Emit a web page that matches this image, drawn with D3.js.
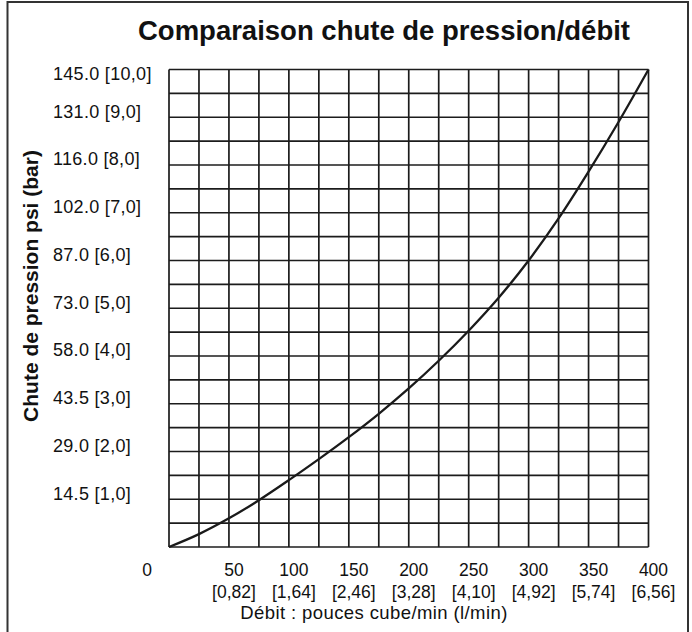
<!DOCTYPE html>
<html><head><meta charset="utf-8">
<script src="https://cdn.jsdelivr.net/npm/d3@7/dist/d3.min.js"></script>
<style>
html,body{margin:0;padding:0;background:#fff;}
text{font-family:"Liberation Sans",Arial,Helvetica,sans-serif;fill:#111;}
</style></head>
<body>
<svg id="chart" width="692" height="632"></svg>
<script>
// ---- data ----
const flowCuIn = [0,25,50,75,100,125,150,175,200,225,250,275,300,325,350,375,400];
const dropBar  = [0,0.27,0.6,0.98,1.4,1.84,2.3,2.79,3.32,3.9,4.53,5.22,6.0,6.88,7.86,8.9,10];
const yTickBar = [1,2,3,4,5,6,7,8,9,10];
const yTickLabels = ["14.5 [1,0]","29.0 [2,0]","43.5 [3,0]","58.0 [4,0]","73.0 [5,0]","87.0 [6,0]","102.0 [7,0]","116.0 [8,0]","131.0 [9,0]","145.0 [10,0]"];
const xTickVals = [0,50,100,150,200,250,300,350,400];
const xTickLitres = ["","[0,82]","[1,64]","[2,46]","[3,28]","[4,10]","[4,92]","[5,74]","[6,56]"];
const titleText = "Comparaison chute de pression/débit";
const yTitle = "Chute de pression psi (bar)";
const xTitle = "Débit : pouces cube/min (l/min)";

const svg = d3.select("#chart");
const W = 692, H = 632;
const x = d3.scaleLinear().domain([0,400]).range([169,648.5]);
const y = d3.scaleLinear().domain([0,10]).range([547,69.5]);

// outer frame
svg.append("rect").attr("x",7.5).attr("y",2).attr("width",680.5).attr("height",H+10)
  .attr("fill","none").attr("stroke","#333").attr("stroke-width",2);

// grid
const g = svg.append("g");
const colStep = 25, rowStep = 0.5;
const xs = d3.range(0, 400 + 1e-9, colStep);
const ys = d3.range(0, 10 + 1e-9, rowStep);
g.selectAll("line.v").data(xs).join("line").attr("class","v")
  .attr("x1",d=>x(d)).attr("x2",d=>x(d)).attr("y1",y(0)).attr("y2",y(10))
  .attr("stroke","#1c1c1c").attr("stroke-width",1.7);
g.selectAll("line.h").data(ys).join("line").attr("class","h")
  .attr("x1",x(0)).attr("x2",x(400)).attr("y1",d=>y(d)).attr("y2",d=>y(d))
  .attr("stroke","#1c1c1c").attr("stroke-width",1.7);

// curve
const pts = flowCuIn.map((q,i)=>[q,dropBar[i]]);
const line = d3.line().x(d=>x(d[0])).y(d=>y(d[1])).curve(d3.curveCatmullRom);
svg.append("path").datum(pts).attr("d",line).attr("fill","none")
  .attr("stroke","#1a1a1a").attr("stroke-width",2.3);

// title
svg.append("text").attr("x",384).attr("y",40).attr("text-anchor","middle")
  .attr("font-size",27.5).attr("font-weight","bold").text(titleText);

// y tick labels
svg.selectAll("text.yl").data(yTickBar).join("text").attr("class","yl")
  .attr("x",53).attr("y",(d)=> d===10 ? y(d)+4 : y(d)-6)
  .attr("dy","0.35em").attr("font-size",18).attr("letter-spacing",0.3)
  .text((d,i)=>yTickLabels[i]);

// y title
svg.append("text").attr("transform",`translate(38,${286}) rotate(-90)`)
  .attr("text-anchor","middle").attr("font-size",21).attr("font-weight","bold").text(yTitle);

// x tick labels
svg.selectAll("text.xl").data(xTickVals).join("text").attr("class","xl")
  .attr("x",d=> d===0 ? x(d)-22 : x(d)+5).attr("y",570).attr("dy","0.35em")
  .attr("text-anchor","middle").attr("font-size",17.5).text(d=>d);
svg.selectAll("text.xl2").data(xTickVals).join("text").attr("class","xl2")
  .attr("x",d=> x(d)+5).attr("y",592).attr("dy","0.35em")
  .attr("text-anchor","middle").attr("font-size",17.5).text((d,i)=>xTickLitres[i]);

// x title
svg.append("text").attr("x",374).attr("y",613).attr("dy","0.35em").attr("text-anchor","middle")
  .attr("font-size",18.5).attr("letter-spacing",0.4).text(xTitle);
</script>
</body></html>
